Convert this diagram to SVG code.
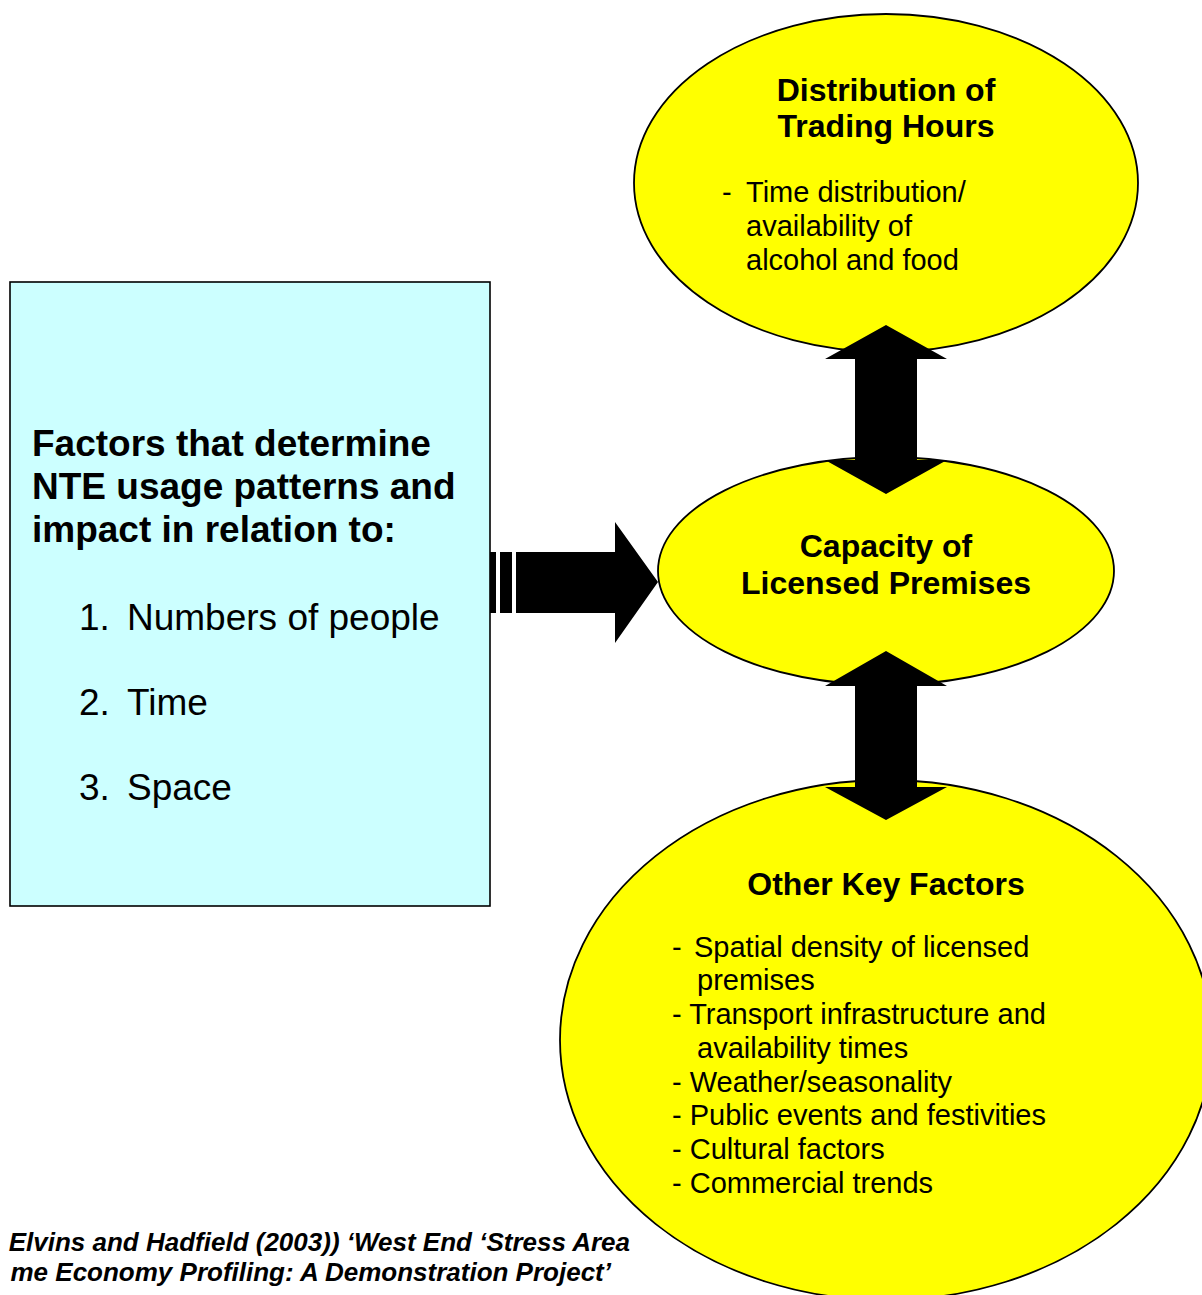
<svg xmlns="http://www.w3.org/2000/svg" width="1202" height="1295" viewBox="0 0 1202 1295">
<style>
.ell{fill:#FFFF00;stroke:#000;stroke-width:1.8}
.t{font-family:"Liberation Sans",Arial,sans-serif;fill:#000}
.h{font-size:32px;font-weight:bold;text-anchor:middle}
.b{font-size:29px}
.big{font-size:37px;font-weight:bold}
.num{font-size:37px}
.src{font-size:26px;font-weight:bold;font-style:italic;text-anchor:end}
.arr{fill:#000}
</style>
<rect width="1202" height="1295" fill="#fff"/>
<g id="factors-box">
<rect x="10" y="282" width="480" height="624" fill="#CCFFFF" stroke="#000" stroke-width="1.6"/>
<text class="t big" x="32" y="456">Factors that determine</text>
<text class="t big" x="32" y="499">NTE usage patterns and</text>
<text class="t big" x="32" y="542">impact in relation to:</text>
<text class="t num" x="79" y="630">1.</text><text class="t num" x="127" y="630">Numbers of people</text>
<text class="t num" x="79" y="715">2.</text><text class="t num" x="127" y="715">Time</text>
<text class="t num" x="79" y="800">3.</text><text class="t num" x="127" y="800">Space</text>
</g>
<g id="trading-hours">
<ellipse class="ell" cx="886" cy="183" rx="252" ry="169"/>
<text class="t h" x="886" y="101">Distribution of</text>
<text class="t h" x="886" y="137">Trading Hours</text>
<text class="t b" x="722" y="202">-</text>
<text class="t b" x="746" y="202">Time distribution/</text>
<text class="t b" x="746" y="236">availability of</text>
<text class="t b" x="746" y="270">alcohol and food</text>
</g>
<g id="capacity">
<ellipse class="ell" cx="886" cy="571" rx="228" ry="114"/>
<text class="t h" x="886" y="557">Capacity of</text>
<text class="t h" x="886" y="594">Licensed Premises</text>
</g>
<g id="other-factors">
<ellipse class="ell" cx="886" cy="1040" rx="326" ry="260"/>
<text class="t h" x="886" y="895">Other Key Factors</text>
<text class="t b" x="672" y="957" font-size="22">-</text>
<text class="t b" x="694" y="957">Spatial density of licensed</text>
<text class="t b" x="697" y="990">premises</text>
<text class="t b" x="672" y="1024">- Transport infrastructure and</text>
<text class="t b" x="697" y="1058">availability times</text>
<text class="t b" x="672" y="1092">- Weather/seasonality</text>
<text class="t b" x="672" y="1125">- Public events and festivities</text>
<text class="t b" x="672" y="1159">- Cultural factors</text>
<text class="t b" x="672" y="1193">- Commercial trends</text>
</g>
<g id="connectors">
<rect class="arr" x="490" y="552" width="6" height="61"/>
<rect class="arr" x="500" y="552" width="12" height="61"/>
<polygon class="arr" points="516,552 615,552 615,522 658,582 615,643 615,613 516,613"/>
<polygon class="arr" points="886,325 947,359 917,359 917,460 947,460 886,494 825,460 855,460 855,359 825,359"/>
<polygon class="arr" points="886,651 947,686 917,686 917,787 947,787 886,820 825,787 855,787 855,686 825,686"/>
</g>
<g id="source">
<text class="t src" x="630" y="1251">Elvins and Hadfield (2003)) ‘West End ‘Stress Area</text>
<text class="t src" x="611" y="1281">me Economy Profiling: A Demonstration Project’</text>
</g>
</svg>
